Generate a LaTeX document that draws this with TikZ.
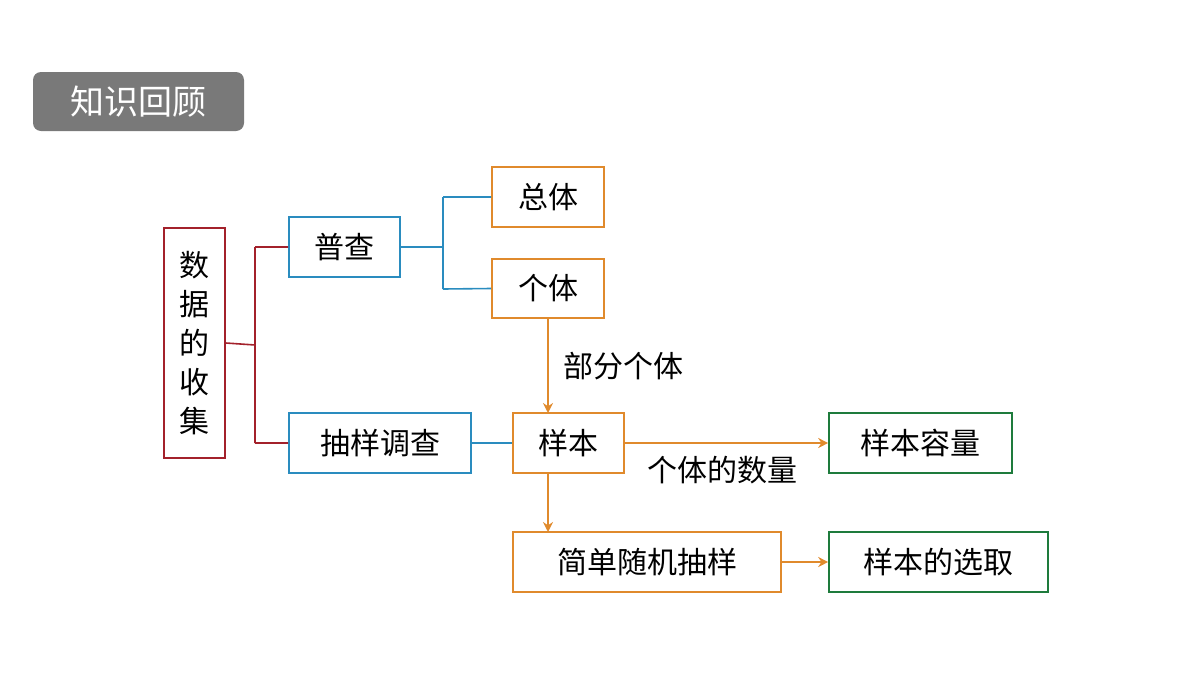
\documentclass[tikz,border=0pt]{standalone}
\usepackage{fontspec}
\setmainfont{Noto Sans CJK SC}
\usetikzlibrary{arrows.meta}
\definecolor{dred}{HTML}{A3212B}
\definecolor{blu}{HTML}{2A8CBF}
\definecolor{org}{HTML}{E08A2C}
\definecolor{grn}{HTML}{1E7B3C}
\begin{document}
\begin{tikzpicture}[x=0.5pt,y=-0.5pt,
 box/.style={draw=#1,line width=0.8pt,inner sep=0pt,font=\fontsize{15}{18}\selectfont},
 ln/.style={draw=#1,line width=0.8pt},
 ar/.style={draw=org,line width=0.8pt,-{Stealth[length=5pt,width=5pt]}},
 lab/.style={font=\fontsize{15}{18}\selectfont}]
\useasboundingbox (0,0) rectangle (1200,675);
\node[fill=gray!95!black,rounded corners=4pt,minimum width=105.5pt,minimum height=29.5pt,text=white,font=\fontsize{17}{20}\selectfont] (t) at (138.5,101.5) {知识回顾};
\node[box=dred,minimum width=30.5pt,minimum height=115pt,align=center,font=\fontsize{15}{19.5}\selectfont] (s) at (194.5,343) {数\\据\\的\\收\\集};
\node[box=blu,minimum width=55.5pt,minimum height=30pt] (p) at (344.5,247) {普查};
\node[box=blu,minimum width=91pt,minimum height=30pt] (c) at (380,443) {抽样调查};
\node[box=org,minimum width=56pt,minimum height=30pt] (z) at (548,197) {总体};
\node[box=org,minimum width=56pt,minimum height=29.5pt] (g) at (548,288.5) {个体};
\node[box=org,minimum width=55.5pt,minimum height=30pt] (y) at (568.5,443) {样本};
\node[box=org,minimum width=134pt,minimum height=30pt] (j) at (647,562) {简单随机抽样};
\node[box=grn,minimum width=91.5pt,minimum height=30pt] (r) at (920.5,443) {样本容量};
\node[box=grn,minimum width=109.5pt,minimum height=30pt] (x) at (938.5,562) {样本的选取};
\coordinate (a1) at (255,345);
\draw[ln=dred] (s.east) -- (a1) (255,247) -- (255,443) (255,247) -- (p.west) (255,443) -- (c.west);
\draw[ln=blu] (p.east) -- (443,247) (443,197) -- (443,289) (443,197) -- (z.west) (443,289) -- (g.west);
\draw[ln=blu] (c.east) -- (y.west);
\draw[ar] (g.south) -- node[lab,right=4pt] {部分个体} (548,413);
\draw[ar] (y.east) -- node[lab,below=3pt,pos=0.48] {个体的数量} (r.west);
\draw[ar] (548,473) -- (548,532);
\draw[ar] (j.east) -- (x.west);
\end{tikzpicture}
\end{document}
